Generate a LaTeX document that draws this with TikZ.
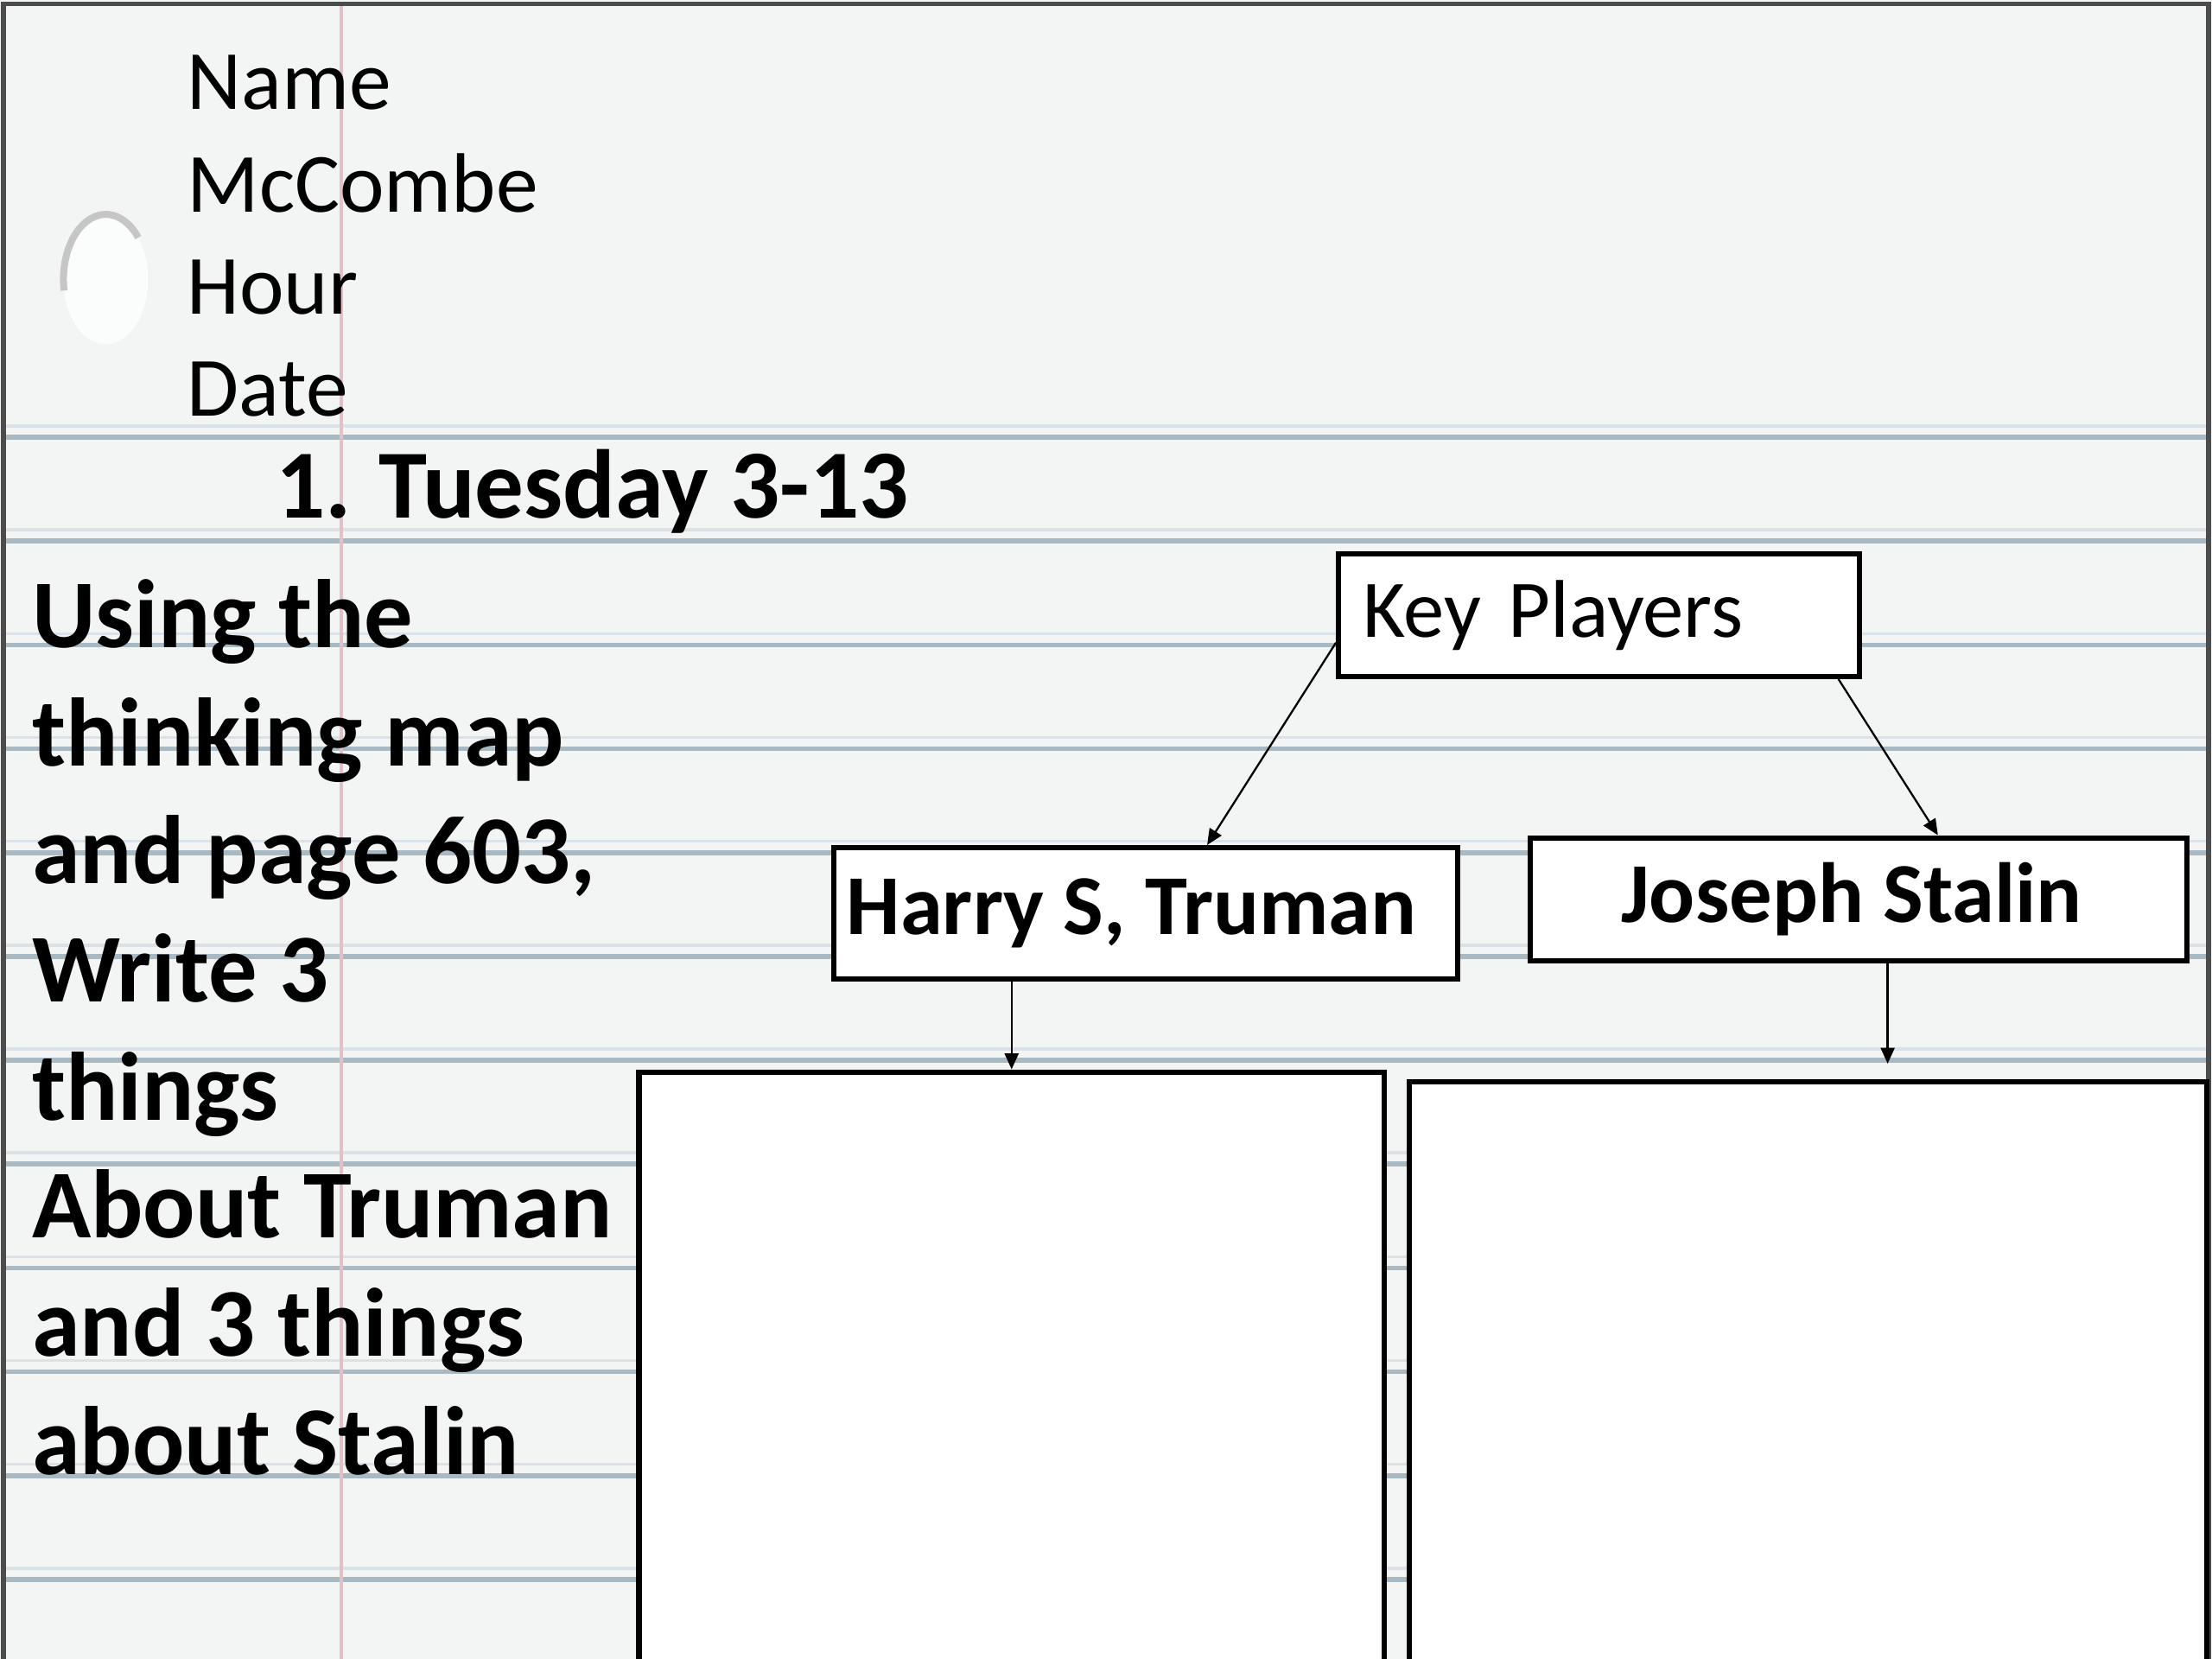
\documentclass[tikz,border=0pt]{standalone}
\usepackage{fontspec}
\setmainfont{Carlito}
\usepackage{tikz}
\usetikzlibrary{positioning,arrows.meta}
\definecolor{paper}{RGB}{243,245,245}
\definecolor{rule}{RGB}{168,185,196}
\definecolor{ruleshade}{RGB}{218,226,231}
\definecolor{margin}{RGB}{226,192,198}
\tikzstyle{kp}=[%
      rectangle, draw=black, line width=1.1pt, fill=white, anchor=north west,
      minimum height=0.87cm, inner xsep=0.17cm, inner ysep=0pt, align=left,
      font=\fontsize{16.5}{19}\selectfont
]
\tikzstyle{pl}=[%
      rectangle, draw=black, line width=1.1pt, fill=white, anchor=north west,
      inner sep=0pt, align=center, font=\bfseries\fontsize{17.2}{21}\selectfont
]
\tikzstyle{nt}=[%
      rectangle, draw=black, line width=1.1pt, fill=white, anchor=north west,
      inner sep=0pt, minimum height=4.5cm
]
\tikzstyle{ar}=[%
      -{Triangle[length=3.2pt,width=2.8pt]}, line width=0.4pt
]

\begin{document}
\begin{tikzpicture}[x=0.01cm, y=0.01cm]
\useasboundingbox (0,0) rectangle (1568,-1176);
\clip (0,0) rectangle (1568,-1176);
% lined paper
\fill[paper] (0,0) rectangle (1568,-1176);
\foreach \k in {0,...,11}{
  \draw[ruleshade, line width=0.6pt] (3,-302-73.6*\k) -- (1565,-302-73.6*\k);
  \draw[rule, line width=1pt] (3,-310-73.6*\k) -- (1565,-310-73.6*\k);
}
\draw[margin, line width=0.8pt] (242,-3) -- (242,-1180);
\fill[white!70!paper] (75,-198) ellipse [x radius=0.3cm, y radius=0.46cm];
\draw[gray!45, line width=1.4pt] (75,-198) ++(190:0.3cm and 0.46cm)
  arc [start angle=190, end angle=40, x radius=0.3cm, y radius=0.46cm];
\draw[gray!60!black, line width=0.9pt] (2.5,-1180) -- (2.5,-3) -- (1565.5,-3) -- (1565.5,-1180);

% heading text (base = last line)
\node[anchor=base west, inner sep=0pt, align=left, font=\fontsize{17}{20.6}\selectfont]
  (hdr) at (132,-295) {Name\\McCombe\\Hour\\Date};
\node[anchor=base west, inner sep=0pt, font=\bfseries\fontsize{19.7}{23}\selectfont]
  (day) at (195,-367.5) {\makebox[0.73cm][l]{1.}Tuesday 3-13};
\node[anchor=base west, inner sep=0pt, align=left, font=\bfseries\fontsize{19.6}{23.8}\selectfont]
  (task) at (22,-1045) {Using the\\thinking map\\and page 603,\\Write 3\\things\\About Truman\\and 3 things\\about Stalin};

% thinking map
\node[kp, minimum width=3.69cm, text width=3.35cm](keyp) at (947,-390.5){Key Players};
\node[pl, minimum width=4.42cm, minimum height=0.93cm](truman) at (589,-599){Harry S, Truman\hspace*{0.2cm}};
\node[pl, minimum width=4.65cm, minimum height=0.87cm](stalin) at (1083,-592){Joseph Stalin\hspace*{0.1cm}};
\node[nt, minimum width=5.28cm](notesT) at (451,-758){};
\node[nt, minimum width=5.65cm](notesS) at (997,-765){};

\draw[ar](keyp.186.6) -- (truman.48);
\draw[ar](keyp.345) -- (stalin.39);
\draw[ar](notesT.north |- truman.south) -- (notesT.north);
\draw[ar]([xshift=2.05mm]stalin.south) -- ([xshift=2.05mm,yshift=1.1mm]stalin.south |- notesS.north);
\end{tikzpicture}
\end{document}
